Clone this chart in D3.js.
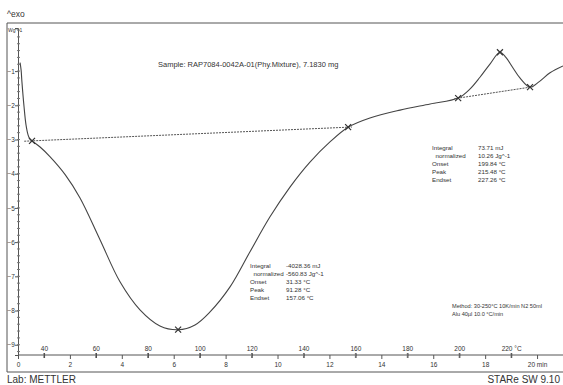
<!DOCTYPE html>
<html>
<head>
<meta charset="utf-8">
<script src="https://cdnjs.cloudflare.com/ajax/libs/d3/7.8.5/d3.min.js"></script>
<style>
body{margin:0;background:#fff;}
svg text{font-family:"Liberation Sans",Arial,sans-serif;fill:#333;}
</style>
</head>
<body>
<div id="graph"></div>
<script>
(function(){
"use strict";

// DSC run, time in min, heat flow in W/g
var time = [0.08,0.12,0.15,0.23,0.31,0.39,0.46,0.54,0.85,1.23,1.81,2.39,3.16,3.93,4.70,5.47,6.17,6.82,7.40,8.17,8.94,9.71,10.48,11.25,12.02,12.72,13.56,14.72,15.88,16.96,17.42,17.80,18.20,18.57,18.80,19.05,19.34,19.73,20.10,20.50,21.0];
var heatFlow = [-0.75,-0.97,-1.30,-2.02,-2.58,-2.87,-2.99,-3.04,-3.22,-3.50,-4.02,-4.71,-5.93,-7.16,-7.98,-8.45,-8.56,-8.42,-8.04,-7.31,-6.28,-5.26,-4.39,-3.66,-3.07,-2.64,-2.37,-2.14,-1.96,-1.79,-1.52,-1.18,-0.78,-0.45,-0.60,-0.88,-1.20,-1.47,-1.30,-1.05,-0.85];

// integration limits and peaks [time, value]
var limits1 = [[0.54,-3.04],[12.72,-2.64]];
var limits2 = [[16.96,-1.79],[19.73,-1.47]];
var peaks = [[6.17,-8.56],[18.57,-0.45]];

var yTicks = [-1,-2,-3,-4,-5,-6,-7,-8,-9];
var tempTicks = [40,60,80,100,120,140,160,180,200,220];
var minTicks = [0,2,4,6,8,10,12,14,16,18,20];

var title = "Sample: RAP7084-0042A-01(Phy.Mixture), 7.1830 mg";
var res1 = [["Integral","-4028.36 mJ"],["  normalized","-560.83 Jg^-1"],["Onset","31.33 °C"],["Peak","91.28 °C"],["Endset","157.06 °C"]];
var res2 = [["Integral","73.71 mJ"],["  normalized","10.26 Jg^-1"],["Onset","199.84 °C"],["Peak","215.48 °C"],["Endset","227.26 °C"]];
var method = ["Method: 30-250°C 10K/min N2 50ml","Alu 40µl 10.0 °C/min"];

var W = 563, H = 385;
var left = 18, right = 563, top = 28, bottom = 355;

var x = d3.scaleLinear().domain([0, 21]).range([left, right]);
var xT = d3.scaleLinear().domain([30, 240]).range([left, right]);
var y = d3.scaleLinear().domain([0.26, -9.3]).range([top, bottom]);

var svg = d3.select('#graph')
	.append('svg')
		.attr('width', W)
		.attr('height', H);

// frame
svg.append('line').attr('x1',7).attr('x2',W).attr('y1',23).attr('y2',23).attr('stroke','#555');
svg.append('line').attr('x1',7).attr('x2',7).attr('y1',23).attr('y2',372).attr('stroke','#555');
svg.append('line').attr('x1',7).attr('x2',W).attr('y1',372).attr('y2',372).attr('stroke','#555');

svg.append('text').attr('x',7).attr('y',17).attr('font-size',8.5).text('^exo');
svg.append('text').attr('x',8).attr('y',32).attr('font-size',5).text('Wg^-1');

// y axis
var yAxis = d3.axisLeft(y).tickValues(yTicks).tickSize(3).tickFormat(d3.format('d'));
var gy = svg.append('g')
	.attr('transform', 'translate(' + left + ',0)')
	.call(yAxis);
gy.select('.domain').attr('stroke','#555');
gy.selectAll('.tick line').attr('stroke','#555');
gy.selectAll('text').attr('font-size',6.5).attr('x',-3).attr('font-family','"Liberation Sans",Arial,sans-serif').attr('fill','#333');

var minorY = d3.range(0.2, -9.3, -0.2);
svg.append('g').selectAll('line')
	.data(minorY)
	.enter()
	.append('line')
		.attr('x1', left - 1)
		.attr('x2', left + 2)
		.attr('y1', function(d){ return y(d); })
		.attr('y2', function(d){ return y(d); })
		.attr('stroke', '#777');

// x axes (temperature above, minutes below)
svg.append('line').attr('x1',left).attr('x2',right).attr('y1',bottom).attr('y2',bottom).attr('stroke','#555');

var tempAxis = d3.axisTop(xT).tickValues(tempTicks).tickSize(5)
	.tickFormat(function(d){ return d === 220 ? '220 °C' : d; });
var gt = svg.append('g')
	.attr('transform', 'translate(0,' + (bottom + 3) + ')')
	.call(tempAxis);
gt.select('.domain').remove();
gt.selectAll('.tick line').attr('stroke','#333').attr('stroke-width',1.2);
gt.selectAll('text').attr('font-size',6.5).attr('y',-7).attr('font-family','"Liberation Sans",Arial,sans-serif').attr('fill','#333');

var minAxis = d3.axisBottom(x).tickValues(minTicks).tickSize(4)
	.tickFormat(function(d){ return d === 20 ? '20 min' : d; });
var gm = svg.append('g')
	.attr('transform', 'translate(0,' + bottom + ')')
	.call(minAxis);
gm.select('.domain').remove();
gm.selectAll('.tick line').attr('stroke','#555');
gm.selectAll('text').attr('font-size',6.5).attr('y',7).attr('font-family','"Liberation Sans",Arial,sans-serif').attr('fill','#333');

svg.append('g').selectAll('line')
	.data(d3.range(1, 21, 2))
	.enter()
	.append('line')
		.attr('x1', function(d){ return x(d); })
		.attr('x2', function(d){ return x(d); })
		.attr('y1', bottom - 2)
		.attr('y2', bottom + 3)
		.attr('stroke', '#777');

// curve
var line = d3.line()
	.x(function(d){ return x(d[0]); })
	.y(function(d){ return y(d[1]); })
	.curve(d3.curveCatmullRom);

svg.append('path')
	.datum(d3.zip(time, heatFlow))
	.attr('d', line)
	.attr('fill', 'none')
	.attr('stroke', '#444')
	.attr('stroke-width', 1.1);

// baselines
function extend(p, a, b){
	var s = (p[1][1] - p[0][1]) / (p[1][0] - p[0][0]);
	return [[p[0][0] - a, p[0][1] - s * a],[p[1][0] + b, p[1][1] + s * b]];
}
[extend(limits1, 0.3, 0.15), extend(limits2, 0.15, 0.15)].forEach(function(b){
	svg.append('path')
		.datum(b)
		.attr('d', d3.line().x(function(d){ return x(d[0]); }).y(function(d){ return y(d[1]); }))
		.attr('fill','none')
		.attr('stroke','#555')
		.attr('stroke-dasharray','2,1');
});

// markers
var marks = limits1.concat(limits2).concat(peaks);
marks.forEach(function(m){
	var cx = x(m[0]), cy = y(m[1]);
	svg.append('path')
		.attr('d', 'M' + (cx-3) + ',' + (cy-3) + 'L' + (cx+3) + ',' + (cy+3) + 'M' + (cx-3) + ',' + (cy+3) + 'L' + (cx+3) + ',' + (cy-3))
		.attr('stroke','#333')
		.attr('stroke-width',1.2);
});

// texts
svg.append('text').attr('x',158).attr('y',67).attr('font-size',7.5).text(title);

function block(rows, x0, x1, y0){
	rows.forEach(function(r, i){
		svg.append('text').attr('x',x0).attr('y',y0 + i*8).attr('font-size',6.2).attr('xml:space','preserve').text(r[0]);
		svg.append('text').attr('x',x1).attr('y',y0 + i*8).attr('font-size',6.2).text(r[1]);
	});
}
block(res1, 250, 286, 268);
block(res2, 432, 478, 150);

method.forEach(function(t, i){
	svg.append('text').attr('x',452).attr('y',308 + i*8).attr('font-size',5.6).text(t);
});

svg.append('text').attr('x',7).attr('y',383).attr('font-size',10).text('Lab: METTLER');
svg.append('text').attr('x',560).attr('y',383).attr('font-size',10).attr('text-anchor','end').text('STARe SW 9.10');

})();
</script>
</body>
</html>
